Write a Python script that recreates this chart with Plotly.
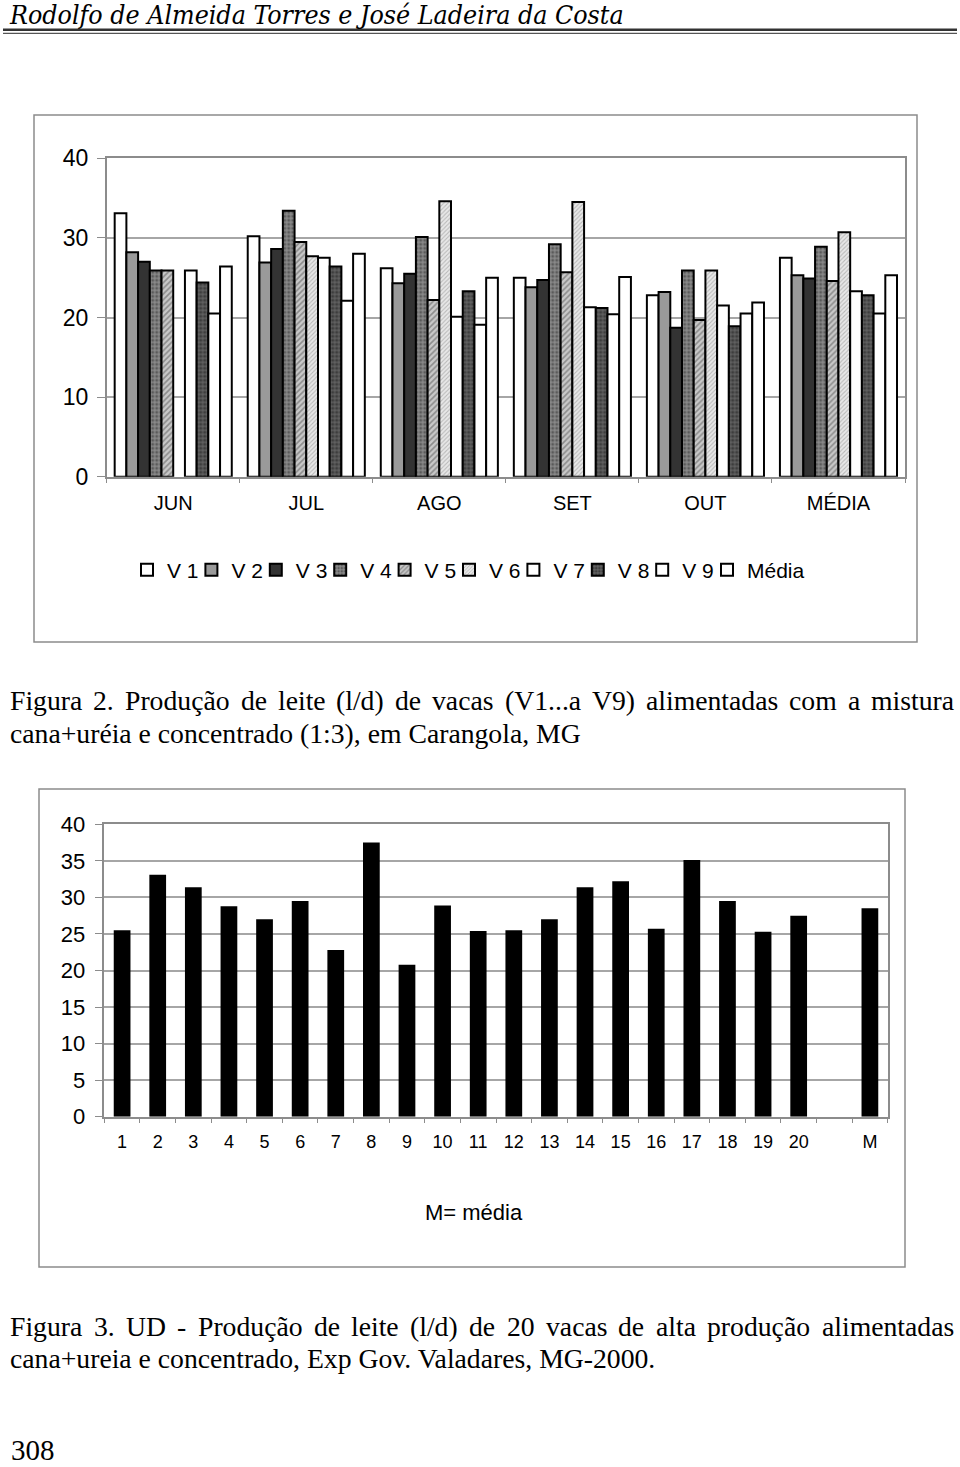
import plotly.graph_objects as go

# ---------------- data ----------------
months = ["JUN", "JUL", "AGO", "SET", "OUT", "MÉDIA"]
v1 = [33.1, 30.2, 26.2, 25.0, 22.8, 27.5]
v2 = [28.2, 26.9, 24.3, 23.8, 23.2, 25.3]
v3 = [27.0, 28.6, 25.5, 24.7, 18.7, 24.9]
v4 = [25.9, 33.4, 30.1, 29.2, 25.9, 28.9]
v5 = [25.9, 29.5, 22.2, 25.7, 19.7, 24.6]
v6 = [None, 27.7, 34.6, 34.5, 25.9, 30.7]
v7 = [25.9, 27.5, 20.1, 21.3, 21.5, 23.3]
v8 = [24.4, 26.4, 23.3, 21.2, 18.9, 22.8]
v9 = [20.5, 22.1, 19.1, 20.4, 20.5, 20.5]
media = [26.4, 28.0, 25.0, 25.1, 21.9, 25.3]
series_names = ["V 1", "V 2", "V 3", "V 4", "V 5", "V 6", "V 7", "V 8", "V 9", "Média"]

cows = [str(i) for i in range(1, 21)] + [" ", "M"]
production = [25.5, 33.1, 31.4, 28.8, 27.0, 29.5, 22.8, 37.5, 20.8, 28.9,
              25.4, 25.5, 27.0, 31.4, 32.2, 25.7, 35.1, 29.5, 25.3, 27.5,
              None, 28.5]

# ---------------- page geometry ----------------
FW, FH = 960, 1467


def px(x):
    return x / FW


def py(y):
    return 1 - y / FH


# ---------------- styles ----------------
styles = [
    dict(color="white"),
    dict(color="#9a9a9a"),
    dict(color="#333333"),
    dict(color="#7a7a7a", pattern=dict(shape=".", fgcolor="#2a2a2a", bgcolor="#8a8a8a", size=4, solidity=0.45)),
    dict(color="#a0a0a0", pattern=dict(shape="/", fgcolor="#505050", bgcolor="#c8c8c8", size=4, solidity=0.4)),
    dict(color="#cccccc", pattern=dict(shape="/", fgcolor="#8a8a8a", bgcolor="#e8e8e8", size=3, solidity=0.35)),
    dict(color="white"),
    dict(color="#444444", pattern=dict(shape=".", fgcolor="#1a1a1a", bgcolor="#606060", size=4, solidity=0.5)),
    dict(color="white"),
    dict(color="white"),
]

sans = "Liberation Sans, Arial, sans-serif"
serif = "Liberation Serif, Times New Roman, serif"
gridc = "#a6a6a6"
axc = "#8c8c8c"

legend_common = dict(orientation="h", xanchor="left", y=py(570), yanchor="middle",
                     font=dict(family=sans, size=21, color="black"),
                     itemwidth=30, tracegroupgap=0, bgcolor="rgba(0,0,0,0)")
LEG_X0, PITCH = 127, 64.4
legend_x = [LEG_X0 + k * PITCH for k in range(9)] + [707]

fig = go.Figure()
all_series = [v1, v2, v3, v4, v5, v6, v7, v8, v9, media]
legend_layouts = {}
for k, (name, vals, st) in enumerate(zip(series_names, all_series, styles)):
    marker = dict(line=dict(color="black", width=2))
    marker.update(st)
    lg = "legend" if k == 0 else f"legend{k + 1}"
    legend_layouts[lg] = dict(x=px(legend_x[k]), **legend_common)
    fig.add_trace(go.Bar(x=months, y=vals, name=name, marker=marker, legend=lg,
                         xaxis="x", yaxis="y"))

fig.add_trace(go.Bar(x=cows, y=production, name="prod", showlegend=False,
                     width=0.47, marker=dict(color="black", line=dict(width=0)),
                     xaxis="x2", yaxis="y2"))

fig.update_layout(
    width=FW, height=FH,
    margin=dict(l=0, r=0, t=0, b=0, autoexpand=False),
    paper_bgcolor="white", plot_bgcolor="white",
    barmode="group", bargap=0.12, bargroupgap=0,
    showlegend=True,
    xaxis=dict(domain=[px(106.7), px(905)], anchor="y", type="category", automargin=False,
               showline=True, linecolor=axc, linewidth=1.5, mirror=True,
               ticks="outside", tickson="boundaries", ticklen=5, tickcolor=axc,
               tickfont=dict(family=sans, size=20, color="black"),
               ticklabelstandoff=8, showgrid=False),
    yaxis=dict(domain=[py(476.7), py(158.3)], anchor="x", range=[0, 40], dtick=10, automargin=False,
               showline=True, linecolor=axc, linewidth=1.5, mirror=True,
               ticks="outside", ticklen=8, tickcolor=axc,
               gridcolor=gridc, gridwidth=1.5, zeroline=False,
               ticklabelstandoff=4,
               tickfont=dict(family=sans, size=23, color="black")),
    xaxis2=dict(domain=[px(104.3), px(887.7)], anchor="y2", type="category", automargin=False,
                showline=True, linecolor=axc, linewidth=1.5, mirror=True,
                ticks="outside", tickson="boundaries", ticklen=5, tickcolor=axc,
                tickfont=dict(family=sans, size=18, color="black"),
                ticklabelstandoff=8, showgrid=False),
    yaxis2=dict(domain=[py(1116.7), py(824.3)], anchor="x2", range=[0, 40], dtick=5, automargin=False,
                showline=True, linecolor=axc, linewidth=1.5, mirror=True,
                ticks="outside", ticklen=8, tickcolor=axc,
                gridcolor=gridc, gridwidth=1.5, zeroline=False,
                ticklabelstandoff=5,
                tickfont=dict(family=sans, size=22, color="black")),
    **legend_layouts,
)

shapes = [
    dict(type="line", x0=px(3), x1=px(957), y0=py(29.8), y1=py(29.8), line=dict(color="#333", width=2.5)),
    dict(type="line", x0=px(3), x1=px(957), y0=py(33.3), y1=py(33.3), line=dict(color="#555", width=1.2)),
    dict(type="rect", x0=px(34), x1=px(917), y0=py(115), y1=py(642), line=dict(color="#8c8c8c", width=1.5)),
    dict(type="rect", x0=px(39), x1=px(905), y0=py(789), y1=py(1267), line=dict(color="#8c8c8c", width=1.5)),
]
for s in shapes:
    s.update(xref="paper", yref="paper", layer="above")
fig.update_layout(shapes=shapes)


def txt(text, x, y, size, family=serif, anchor="left", italic=False):
    return dict(text=text, x=px(x), y=py(y), xref="paper", yref="paper",
                xanchor=anchor, yanchor="middle", showarrow=False,
                font=dict(family=family, size=size, color="black",
                          style="italic" if italic else "normal"))


# Times metrics (1/1000 em) for justifying caption lines
TW = {' ': 250, '(': 333, ')': 333, '+': 564, ',': 250, '-': 333, '.': 250, '/': 278, ':': 278,
      'A': 722, 'C': 667, 'D': 722, 'E': 611, 'F': 556, 'G': 722, 'M': 889, 'P': 556, 'U': 722, 'V': 722,
      'a': 444, 'b': 500, 'c': 444, 'd': 500, 'e': 444, 'f': 333, 'g': 500, 'h': 500, 'i': 278,
      'l': 278, 'm': 778, 'n': 500, 'o': 500, 'p': 500, 'r': 333, 's': 389, 't': 278, 'u': 500,
      'v': 500, 'x': 500, 'ç': 444, 'ã': 444, 'é': 444, 'ó': 500}
for d in "0123456789":
    TW[d] = 500


def justified(line, x0, x1, y, size):
    words = line.split(" ")
    widths = [sum(TW.get(c, 500) for c in w) * size / 1000 for w in words]
    gap = (x1 - x0 - sum(widths)) / (len(words) - 1)
    out, x = [], x0
    for w, wd in zip(words, widths):
        out.append(txt(w, x, y, size))
        x += wd + gap
    return out


CAP = 27.7
annotations = [
    txt("Rodolfo de Almeida Torres e José Ladeira da Costa", 7, 14.5, 26.5,
        family="DejaVu Serif Condensed, DejaVu Serif, serif", italic=True),
    txt("cana+uréia e concentrado (1:3), em Carangola, MG", 8, 733, CAP),
    txt("M= média", 474, 1212, 22, family=sans, anchor="center"),
    txt("cana+ureia e concentrado, Exp Gov. Valadares, MG-2000.", 8, 1358, CAP),
    txt("308", 9, 1450, 29),
]
annotations += justified("Figura 2. Produção de leite (l/d) de vacas (V1...a V9) alimentadas com a mistura",
                         8, 952, 700, CAP)
annotations += justified("Figura 3. UD - Produção de leite (l/d) de 20 vacas de alta produção alimentadas",
                         8, 952, 1326, CAP)
fig.update_layout(annotations=annotations)

# pin the figure to the page's top-left corner so its coordinates match the window
post = ("var gd=document.getElementById('{plot_id}');"
        "document.body.style.margin='0';"
        "gd.style.position='absolute';gd.style.left='0px';gd.style.top='0px';")
fig.write_html("out.html", post_script=post, config={"displayModeBar": False})
